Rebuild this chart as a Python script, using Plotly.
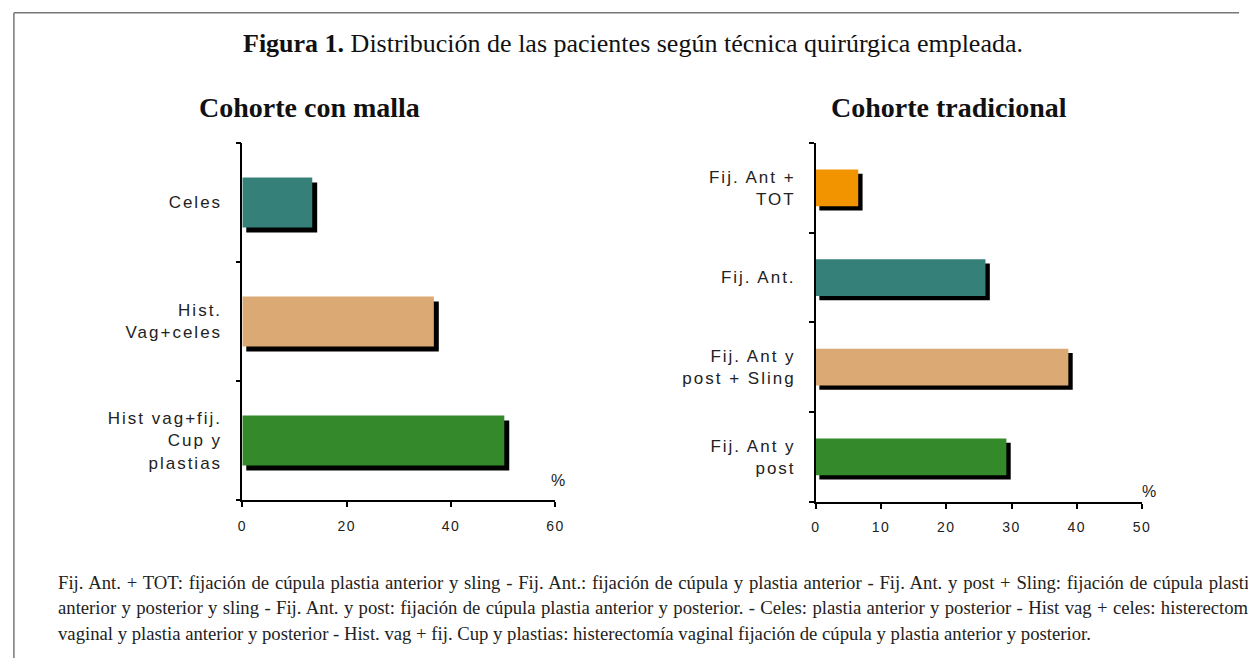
import plotly.graph_objects as go

W, H = 1248, 658

# ---- data ----
malla_cats = ["Hist vag+fij.<br>Cup y<br>plastias", "Hist.<br>Vag+celes", "Celes"]
malla_vals = [50.2, 36.7, 13.4]
malla_colors = ["#348A2A", "#DBA974", "#36807A"]

trad_cats = ["Fij. Ant y<br>post", "Fij. Ant y<br>post + Sling", "Fij. Ant.", "Fij. Ant +<br>TOT"]
trad_vals = [29.2, 38.7, 26.0, 6.5]
trad_colors = ["#348A2A", "#DBA974", "#36807A", "#F29400"]

malla_ticks = [0, 20, 40, 60]
trad_ticks = [0, 10, 20, 30, 40, 50]

title_text = "<b>Figura 1.</b> Distribución de las pacientes según técnica quirúrgica empleada."
sub_left = "<b>Cohorte con malla</b>"
sub_right = "<b>Cohorte tradicional</b>"
foot_lines = [
    "Fij. Ant. + TOT: fijación de cúpula plastia anterior y sling - Fij. Ant.: fijación de cúpula y plastia anterior - Fij. Ant. y post + Sling: fijación de cúpula plastia",
    "anterior y posterior y sling - Fij. Ant. y post: fijación de cúpula plastia anterior y posterior. - Celes: plastia anterior y posterior - Hist vag + celes: histerectomía",
    "vaginal y plastia anterior y posterior - Hist. vag + fij. Cup y plastias: histerectomía vaginal fijación de cúpula y plastia anterior y posterior.",
]
foot_wordspacing = [1.1, 0.7, 0]

SANS = "Liberation Sans, Arial, sans-serif"
SERIF = "Liberation Serif, Times New Roman, serif"


def spaced(text, ls):
    return "<br>".join(f'<span style="letter-spacing:{ls}px">{t}</span>' for t in text.split("<br>"))


# layout geometry (pixels)
L_x0, L_x1, L_yt, L_yb = 240, 556.7, 143, 500
R_x0, R_x1, R_yt, R_yb = 820, 1150, 143, 501.7


def add_panel(fig, cats, vals, colors, xmax, x0, x1, yt, yb, xa, ya, bw, sh_dx0, sh_dx1, sh_dy):
    pxu = (x1 - x0) / xmax
    cat_px = (yb - yt) / len(cats)
    dx0 = sh_dx0 / pxu
    dx1 = sh_dx1 / pxu
    dy = sh_dy / cat_px
    # shadow
    fig.add_trace(go.Bar(
        y=cats, x=[v + dx1 - dx0 for v in vals], base=dx0, orientation="h",
        width=bw, offset=-bw / 2 - dy, marker=dict(color="black", line=dict(width=0)),
        xaxis=xa, yaxis=ya, showlegend=False, hoverinfo="skip"))
    fig.add_trace(go.Bar(
        y=cats, x=vals, orientation="h", width=bw, offset=-bw / 2,
        marker=dict(color=colors, line=dict(width=0)),
        xaxis=xa, yaxis=ya, showlegend=False))


fig = go.Figure()
add_panel(fig, malla_cats, malla_vals, malla_colors, 60, L_x0, L_x1, L_yt, L_yb, "x", "y", 0.42, 4, 5, 5)
add_panel(fig, trad_cats, trad_vals, trad_colors, 50, R_x0, R_x1, R_yt, R_yb, "x2", "y2", 0.41, 3.6, 4.4, 4.3)

axis_common = dict(showline=True, linecolor="black", linewidth=1.6, ticks="outside",
                   tickcolor="black", tickwidth=1.6, showgrid=False, zeroline=False)
xfont = dict(family=SANS, size=14, color="#222")
yfont = dict(family=SANS, size=17, color="#222")

fig.update_layout(
    width=W, height=H, margin=dict(l=0, r=0, t=0, b=0),
    paper_bgcolor="white", plot_bgcolor="white", barmode="overlay",
    xaxis=dict(domain=[L_x0 / W, L_x1 / W], range=[0, 60], anchor="y",
               tickmode="array", tickvals=malla_ticks, ticktext=[spaced(str(t), 1.5) for t in malla_ticks],
               ticklen=5, ticklabelstandoff=7, tickfont=xfont, **axis_common),
    yaxis=dict(domain=[1 - L_yb / H, 1 - L_yt / H], anchor="x", type="category",
               categoryorder="array", categoryarray=malla_cats, range=[-0.5, len(malla_cats) - 0.5],
               tickson="boundaries", ticklen=5, ticklabelstandoff=15,
               tickmode="array", tickvals=malla_cats, ticktext=[spaced(c, 2) for c in malla_cats],
               tickfont=yfont, **axis_common),
    xaxis2=dict(domain=[R_x0 / W, R_x1 / W], range=[0, 50], anchor="y2",
                tickmode="array", tickvals=trad_ticks, ticktext=[spaced(str(t), 1.5) for t in trad_ticks],
                ticklen=5, ticklabelstandoff=7, tickfont=xfont, **axis_common),
    yaxis2=dict(domain=[1 - R_yb / H, 1 - R_yt / H], anchor="x2", type="category",
                categoryorder="array", categoryarray=trad_cats, range=[-0.5, len(trad_cats) - 0.5],
                tickson="boundaries", ticklen=5, ticklabelstandoff=15,
                tickmode="array", tickvals=trad_cats, ticktext=[spaced(c, 2) for c in trad_cats],
                tickfont=yfont, **axis_common),
)

ann = [
    dict(text=title_text, x=635 / W, y=1 - 43 / H, font=dict(family=SERIF, size=26, color="#111")),
    dict(text=sub_left, x=307.5 / W, y=1 - 107 / H, font=dict(family=SERIF, size=28, color="#111")),
    dict(text=sub_right, x=955 / W, y=1 - 107 / H, font=dict(family=SERIF, size=28, color="#111")),
    dict(text="%", x=559 / W, y=1 - 480 / H, font=dict(family=SANS, size=16, color="#222")),
    dict(text="%", x=1157 / W, y=1 - 491 / H, font=dict(family=SANS, size=16, color="#222")),
]
for i, line in enumerate(foot_lines):
    txt = f'<span style="word-spacing:{foot_wordspacing[i]}px">{line}</span>' if foot_wordspacing[i] else line
    ann.append(dict(text=txt, x=52 / W, y=1 - (582 + 25.5 * i) / H, xanchor="left",
                    font=dict(family=SERIF, size=18.7, color="#222")))
for a in ann:
    a.setdefault("xanchor", "center")
    a.update(xref="paper", yref="paper", yanchor="middle", showarrow=False)
fig.update_layout(annotations=ann)

fig.add_shape(type="line", xref="paper", yref="paper", x0=9 / W, x1=1, y0=1 - 12.7 / H, y1=1 - 12.7 / H,
              line=dict(color="#777", width=1.5))
fig.add_shape(type="line", xref="paper", yref="paper", x0=9 / W, x1=9 / W, y0=0, y1=1 - 12.7 / H,
              line=dict(color="#777", width=1.5))

fig.write_html("out.html", config={"displayModeBar": False},
               post_script="document.body.style.margin='0';document.body.style.overflow='hidden';")
